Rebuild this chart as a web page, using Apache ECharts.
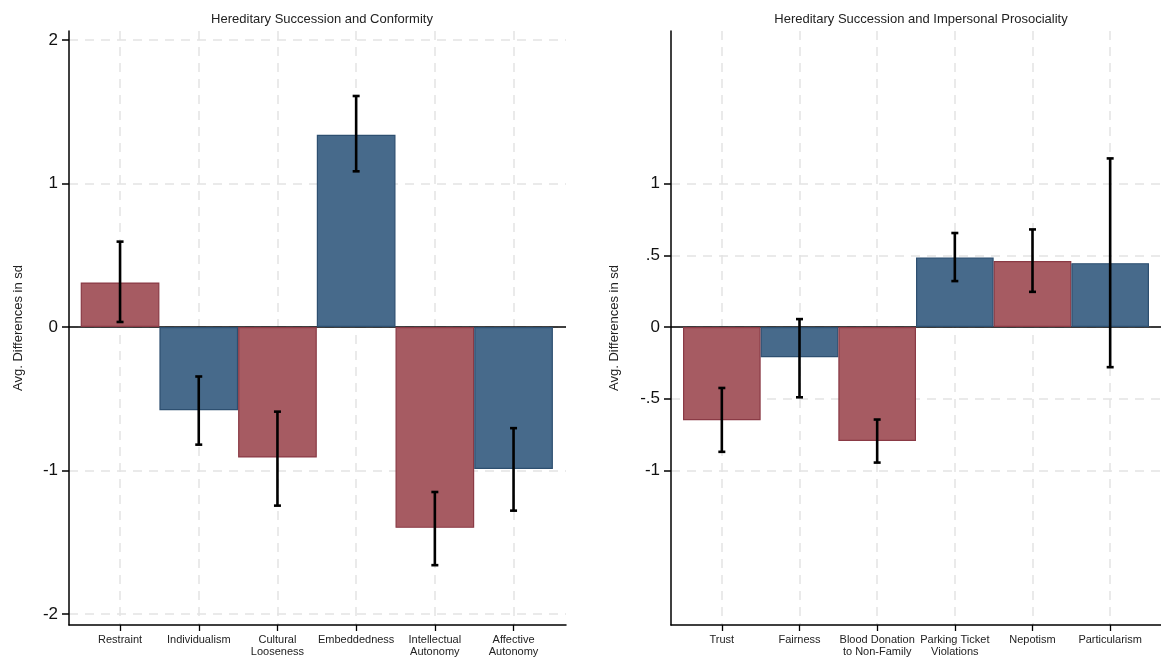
<!DOCTYPE html>
<html>
<head>
<meta charset="utf-8">
<script src="https://cdn.jsdelivr.net/npm/echarts@6/dist/echarts.min.js"></script>
<style>
html,body{margin:0;padding:0;background:#fff;}
#chart{width:1161px;height:669px;}
</style>
</head>
<body>
<div id="chart"></div>
<script>
// ---- Data ----
const leftTitle = 'Hereditary Succession and Conformity';
const rightTitle = 'Hereditary Succession and Impersonal Prosociality';
const yAxisName = 'Avg. Differences in sd';

const leftCategories = ['Restraint', 'Individualism', 'Cultural\nLooseness', 'Embeddedness', 'Intellectual\nAutonomy', 'Affective\nAutonomy'];
const leftValues = [0.31, -0.58, -0.91, 1.34, -1.40, -0.99];
const leftLow = [0.035, -0.82, -1.245, 1.085, -1.66, -1.28];
const leftHigh = [0.595, -0.345, -0.59, 1.61, -1.15, -0.705];
const leftTicks = [-2, -1, 0, 1, 2];

const rightCategories = ['Trust', 'Fairness', 'Blood Donation\nto Non-Family', 'Parking Ticket\nViolations', 'Nepotism', 'Particularism'];
const rightValues = [-0.65, -0.21, -0.795, 0.485, 0.46, 0.445];
const rightLow = [-0.87, -0.49, -0.945, 0.32, 0.245, -0.28];
const rightHigh = [-0.425, 0.055, -0.645, 0.655, 0.68, 1.175];
const rightTicks = [-1, -0.5, 0, 0.5, 1];

const yMin = -2.077, yMax = 2.063;

// ---- Styles ----
const RED = '#a65b62', RED_B = '#8a3a45';
const BLUE = '#476a8b', BLUE_B = '#2d4f70';
const GRID_C = '#e3e3e3';
const FONT = 'Liberation Sans, Arial, sans-serif';

function stataNum(v) {
  if (v === 0) return '0';
  let s = String(v);
  s = s.replace(/^0\./, '.').replace(/^-0\./, '-.');
  return s;
}

function errorBarSeries(xIdx, yIdx, low, high) {
  return {
    type: 'custom',
    xAxisIndex: xIdx, yAxisIndex: yIdx,
    z: 10,
    data: low.map((l, i) => [i, l, high[i]]),
    renderItem: function (params, api) {
      const lo = api.coord([api.value(0), api.value(1)]);
      const hi = api.coord([api.value(0), api.value(2)]);
      const w = 3.5;
      const st = { stroke: '#000', lineWidth: 2.6 };
      return {
        type: 'group',
        children: [
          { type: 'line', shape: { x1: lo[0], y1: lo[1], x2: hi[0], y2: hi[1] }, style: st },
          { type: 'line', shape: { x1: lo[0] - w, y1: lo[1], x2: lo[0] + w, y2: lo[1] }, style: st },
          { type: 'line', shape: { x1: hi[0] - w, y1: hi[1], x2: hi[0] + w, y2: hi[1] }, style: st }
        ]
      };
    }
  };
}

function barSeries(xIdx, yIdx, vals) {
  return {
    type: 'bar',
    xAxisIndex: xIdx, yAxisIndex: yIdx,
    barCategoryGap: '0%',
    barGap: '0%',
    z: 5,
    data: vals.map((v, i) => ({
      value: v,
      itemStyle: {
        color: i % 2 === 0 ? RED : BLUE,
        borderColor: i % 2 === 0 ? RED_B : BLUE_B,
        borderWidth: 1.2
      }
    }))
  };
}

const splitDashed = { show: true, lineStyle: { color: GRID_C, width: 1.5, type: [9, 7] } };

function frameX(gridIndex) {
  return {
    type: 'value', gridIndex, min: 0, max: 1,
    axisLine: { show: true, onZero: false, lineStyle: { color: '#000', width: 1.5 } },
    axisTick: { show: false }, axisLabel: { show: false }, splitLine: { show: false }
  };
}
function catX(gridIndex, cats) {
  return {
    type: 'category', gridIndex, data: cats,
    axisLine: { show: false, onZero: false },
    axisTick: { show: true, alignWithLabel: true, length: 6, lineStyle: { color: '#000', width: 1.3 } },
    axisLabel: { color: '#222', fontSize: 11, fontFamily: FONT, margin: 9, lineHeight: 12, interval: 0 },
    splitLine: Object.assign({ alignWithLabel: true }, splitDashed)
  };
}
function frameY(gridIndex, ticks, nameGap) {
  return {
    type: 'value', gridIndex, min: yMin, max: yMax,
    name: yAxisName, nameLocation: 'middle', nameRotate: 90, nameGap,
    nameTextStyle: { color: '#222', fontSize: 13, fontFamily: FONT },
    axisLine: { show: true, onZero: false, lineStyle: { color: '#000', width: 1.5 } },
    axisTick: { show: true, inside: false, length: 7, customValues: ticks, lineStyle: { color: '#000', width: 1.5 } },
    axisLabel: { customValues: ticks, color: '#111', fontSize: 17, fontFamily: FONT, margin: 11, formatter: v => stataNum(v) },
    splitLine: Object.assign({ customValues: ticks }, splitDashed)
  };
}
function hiddenY(gridIndex) {
  return { type: 'value', gridIndex, min: yMin, max: yMax, show: false, splitLine: { show: false } };
}

const chart = echarts.init(document.getElementById('chart'), null, { renderer: 'canvas' });
chart.setOption({
  animation: false,
  backgroundColor: '#fff',
  title: [
    { text: leftTitle, left: 317, top: 8, textAlign: 'center', textStyle: { fontSize: 13, fontWeight: 'normal', color: '#222', fontFamily: FONT } },
    { text: rightTitle, left: 916, top: 8, textAlign: 'center', textStyle: { fontSize: 13, fontWeight: 'normal', color: '#222', fontFamily: FONT } }
  ],
  grid: [
    { left: 69, top: 31, width: 497, height: 594 },
    { left: 80.7, top: 31, width: 472.2, height: 594 },
    { left: 671, top: 31, width: 490, height: 594 },
    { left: 683, top: 31, width: 466, height: 594 }
  ],
  xAxis: [frameX(0), catX(1, leftCategories), frameX(2), catX(3, rightCategories)],
  yAxis: [frameY(0, leftTicks, 44), hiddenY(1), frameY(2, rightTicks, 50), hiddenY(3)],
  series: [
    {
      type: 'line', xAxisIndex: 0, yAxisIndex: 0, data: [], silent: true, z: 8,
      markLine: { silent: true, symbol: 'none', label: { show: false }, lineStyle: { color: '#000', width: 1.5, type: 'solid' }, data: [{ yAxis: 0 }] }
    },
    {
      type: 'line', xAxisIndex: 2, yAxisIndex: 2, data: [], silent: true, z: 8,
      markLine: { silent: true, symbol: 'none', label: { show: false }, lineStyle: { color: '#000', width: 1.5, type: 'solid' }, data: [{ yAxis: 0 }] }
    },
    barSeries(1, 1, leftValues),
    errorBarSeries(1, 1, leftLow, leftHigh),
    barSeries(3, 3, rightValues),
    errorBarSeries(3, 3, rightLow, rightHigh)
  ]
});
</script>
</body>
</html>
